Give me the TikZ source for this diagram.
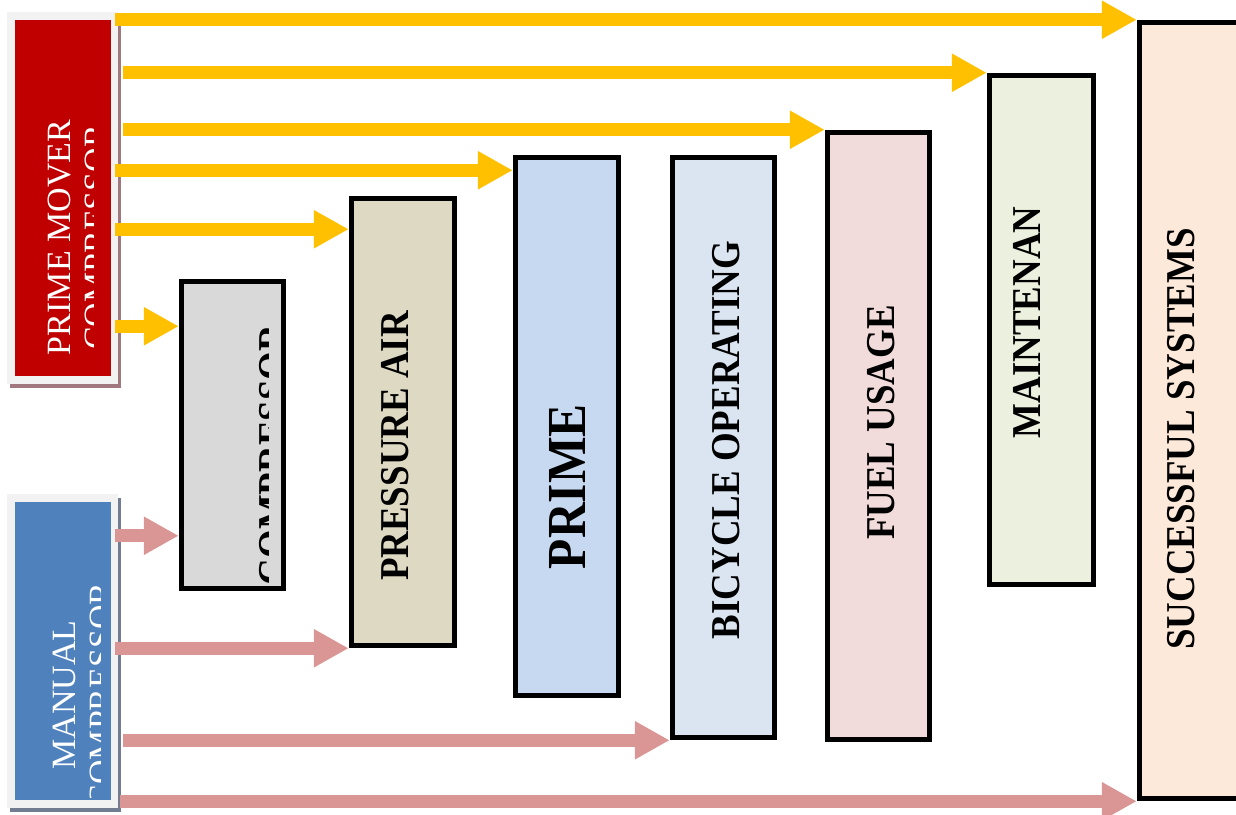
\documentclass[tikz,border=0pt]{standalone}
\usepackage{fontspec}
\setmainfont{Liberation Serif}
\newfontfamily\lblfont[FakeStretch=0.9]{Liberation Serif}
\usepackage{tikz}
\usetikzlibrary{arrows.meta,calc,shadows}
\definecolor{framegray}{HTML}{F2F2F2}
\definecolor{pmred}{HTML}{C00000}
\definecolor{manblue}{HTML}{4F81BD}
\definecolor{pmshadow}{RGB}{160,120,125}
\definecolor{manshadow}{RGB}{115,125,145}
\definecolor{feedyellow}{HTML}{FFC000}
\definecolor{feedpink}{HTML}{D99694}
\definecolor{compgray}{HTML}{D9D9D9}
\definecolor{presstan}{HTML}{DDD9C3}
\definecolor{primeblue}{HTML}{C6D9F1}
\definecolor{bicycblue}{HTML}{DBE5F1}
\definecolor{fuelpink}{HTML}{F2DCDB}
\definecolor{maintgreen}{HTML}{EBF1DE}
\definecolor{succpeach}{HTML}{FDE9D9}

\begin{document}
\begin{tikzpicture}[x=1pt,y=-1pt,
  stage/.style={draw=black, line width=5.5pt, inner sep=0pt},
  source/.style={fill=framegray, inner sep=0pt, minimum width=111pt},
  lbl/.style={rotate=90, inner sep=0pt, font=\lblfont\bfseries\fontsize{41}{44}\selectfont},
  srclbl/.style={rotate=90, inner sep=0pt, text=white, align=center, font=\fontsize{34}{37}\selectfont},
  feed/.style={line width=13pt, -{Triangle[length=35pt,width=36pt]}}]
\useasboundingbox (0,0) rectangle (1236,814);
\clip (0,0) rectangle (1236,814);

% sources
\node[source, minimum height=372pt, drop shadow={shadow xshift=3pt, shadow yshift=-4pt, opacity=1, fill=pmshadow}] (pm) at (62.5,198) {};
\node[fill=pmred, inner sep=0pt, minimum width=95.5pt, minimum height=356pt] (pmfill) at (62.75,197.5) {};
\node[source, minimum height=314pt, drop shadow={shadow xshift=3pt, shadow yshift=-4pt, opacity=1, fill=manshadow}] (man) at (62.5,651) {};
\node[fill=manblue, inner sep=0pt, minimum width=95.5pt, minimum height=297.5pt] (manfill) at (62.75,650.75) {};
\begin{scope}
\clip (pmfill.north west) rectangle (93.5,375);
\node[srclbl] (pmlbl) at (77.75,237.5) {PRIME MOVER\\COMPRESSOR};
\end{scope}
\begin{scope}
\clip (manfill.north west) rectangle (100,797);
\node[srclbl] (manlbl) at (82.75,695) {MANUAL\\COMPRESSOR};
\end{scope}

% stages
\node[stage, fill=compgray, minimum width=102pt, minimum height=307pt] (comp) at (232.5,435) {};
\node[stage, fill=presstan, minimum width=103pt, minimum height=447pt] (press) at (403,422) {};
\node[stage, fill=primeblue, minimum width=103pt, minimum height=538pt] (prime) at (567,426.5) {};
\node[stage, fill=bicycblue, minimum width=102pt, minimum height=580pt] (bicyc) at (723.5,447.5) {};
\node[stage, fill=fuelpink, minimum width=102pt, minimum height=607pt] (fuel) at (878.5,436) {};
\node[stage, fill=maintgreen, minimum width=104pt, minimum height=509pt] (maint) at (1041.5,330) {};
\node[stage, fill=succpeach, minimum width=121pt, minimum height=776pt] (succ) at (1200,410.5) {};

\begin{scope}
\clip (comp.north west) rectangle (268,590);
\node[lbl] (complbl) at (273,455) {COMPRESSOR};
\end{scope}
\node[lbl] (presslbl) at (395,446) {PRESSURE AIR};
\node[lbl, font=\lblfont\bfseries\fontsize{55}{58}\selectfont] (primelbl) at (567.5,486.5) {PRIME};
\node[lbl] (bicyclbl) at (726.5,440) {BICYCLE OPERATING};
\node[lbl] (fuellbl) at (881.5,422.5) {FUEL USAGE};
\node[lbl] (maintlbl) at (1026.5,322.5) {MAINTENAN};
\node[lbl] (succlbl) at (1181,439) {SUCCESSFUL SYSTEMS};

% arrow ends
\coordinate (pmout) at ([xshift=-3pt]pm.east);
\coordinate (pmout2) at ([xshift=5pt]pm.east);
\coordinate (manout) at ([xshift=-3pt]man.east);
\coordinate (manout2) at ([xshift=5pt]man.east);
\coordinate (manout3) at ([xshift=2pt]man.east);
\coordinate (primein) at ([yshift=-15.5pt]prime.north west);
\coordinate (pressin) at ([yshift=-33.5pt]press.north west);
\coordinate (compin) at ([yshift=-47.5pt]comp.north west);
\coordinate (compin2) at ([yshift=55.5pt]comp.south west);

% prime mover feeds
\draw[feed, feedyellow] (pmout |- succ.north west) -- (succ.north west);
\draw[feed, feedyellow] (pmout2 |- maint.north west) -- (maint.north west);
\draw[feed, feedyellow] (pmout2 |- fuel.north west) -- (fuel.north west);
\draw[feed, feedyellow] (pmout |- primein) -- (primein);
\draw[feed, feedyellow] (pmout |- pressin) -- (pressin);
\draw[feed, feedyellow] (pmout |- compin) -- (compin);

% manual feeds
\draw[feed, feedpink] (manout |- compin2) -- (compin2);
\draw[feed, feedpink] (manout |- press.south west) -- (press.south west);
\draw[feed, feedpink] (manout2 |- bicyc.south west) -- (bicyc.south west);
\draw[feed, feedpink] (manout3 |- succ.south west) -- (succ.south west);
\end{tikzpicture}
\end{document}
